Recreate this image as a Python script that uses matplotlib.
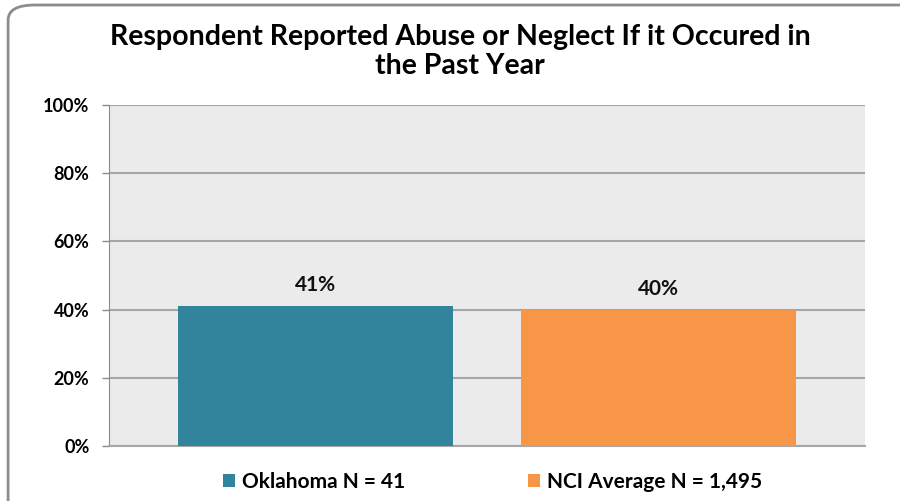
import matplotlib
matplotlib.use("Agg")
import matplotlib.pyplot as plt
from matplotlib.patches import FancyBboxPatch, Patch

plt.rcParams["font.family"] = ["Lato", "DejaVu Sans"]

categories = ["Oklahoma N = 41", "NCI Average N = 1,495"]
values = [41, 40]
colors = ["#31849b", "#f79646"]
yticks = [0, 20, 40, 60, 80, 100]

fig = plt.figure(figsize=(9, 5.01), dpi=100)
ax = fig.add_axes([0.1211, 0.1098, 0.84, 0.6806])

# rounded outer frame, partly cut off on the right/bottom like the original
frame = FancyBboxPatch((0.009, -0.05), 1.1, 1.04, boxstyle="round,pad=0,rounding_size=0.03",
                       transform=fig.transFigure, fill=False, ec="#8c8c8c", lw=2,
                       clip_on=False)
fig.patches.append(frame)

ax.set_facecolor("#ebebeb")
x = list(range(len(categories)))
bars = ax.bar(x, values, width=0.8, color=colors, zorder=3)
for b, v in zip(bars, values):
    ax.text(b.get_x() + b.get_width() / 2, v + 3.2, f"{v}%", ha="center", va="bottom",
            fontsize=15, fontweight="bold", color="#111111")

ax.set_xlim(-0.6, 1.6)
ax.set_ylim(0, 100)
ax.set_yticks(yticks)
ax.set_yticklabels([f"{t}%" for t in yticks], fontsize=13, fontweight="bold")
ax.set_xticks([])
ax.grid(axis="y", color="#a6a6a6", lw=1.5, zorder=1)
ax.tick_params(axis="y", length=5, width=1, color="#8c8c8c", pad=9)
for s in ["top", "right"]:
    ax.spines[s].set_visible(False)
ax.spines["left"].set_color("#8c8c8c")
ax.spines["bottom"].set_color("#a6a6a6")
ax.spines["bottom"].set_linewidth(1.5)

fig.text(0.511, 0.897, "Respondent Reported Abuse or Neglect If it Occured in\nthe Past Year",
         ha="center", va="center", fontsize=20.5, fontweight="bold", linespacing=1.12)

handles = [Patch(facecolor=c, edgecolor="none") for c in colors]
fig.legend(handles, categories, loc="center", bbox_to_anchor=(0.547, 0.038), ncol=2,
           frameon=False, prop={"weight": "bold", "size": 15},
           handlelength=0.6, handleheight=0.6, handletextpad=0.3, columnspacing=5.9)

fig.savefig("out.png", dpi=100)
